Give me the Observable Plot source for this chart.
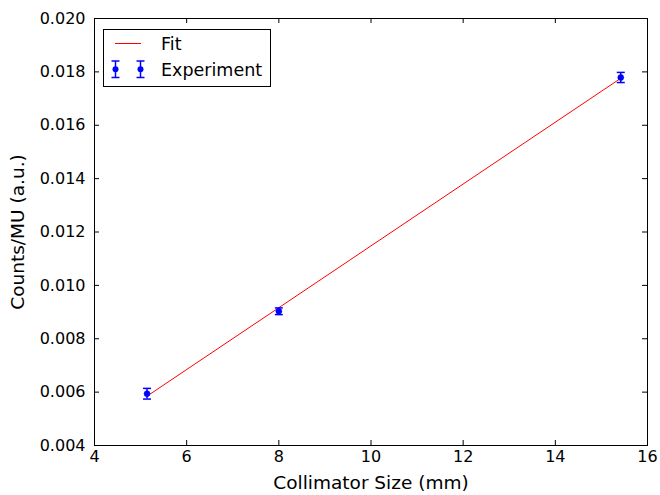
<!DOCTYPE html>
<html>
<head>
<meta charset="utf-8">
<script src="https://cdn.jsdelivr.net/npm/d3@7"></script>
<script src="https://cdn.jsdelivr.net/npm/@observablehq/plot@0.6"></script>
<style>
  html, body { margin: 0; padding: 0; background: white; }
  #chart { position: relative; width: 660px; height: 495px; }
</style>
</head>
<body>
<div id="chart"></div>
<script>
// Data
const expX = [5.14, 8.0, 15.42];
const expY = [0.00594, 0.00903, 0.01779];
const expErr = [0.0002, 0.000125, 0.00019];
const fitX = [5.14, 15.42];
const fitY = [0.00585, 0.01776];
const xTicks = [4, 6, 8, 10, 12, 14, 16];
const yTicks = [0.004, 0.006, 0.008, 0.010, 0.012, 0.014, 0.016, 0.018, 0.020];
const xLabel = "Collimator Size (mm)";
const yLabel = "Counts/MU (a.u.)";
const legendLabels = ["Fit", "Experiment"];

const points = expX.map((x, i) => ({x, y: expY[i], e: expErr[i]}));
const fit = fitX.map((x, i) => ({x, y: fitY[i]}));

const W = 660, H = 495, mL = 94, mR = 13, mT = 18, mB = 50;
const innerW = W - mL - mR, innerH = H - mT - mB;
const tickLen = 5;

const capSymbol = {
  draw(ctx) { ctx.moveTo(-4, 0); ctx.lineTo(4, 0); }
};

const font = "DejaVu Sans, Bitstream Vera Sans, sans-serif";

const chart = Plot.plot({
  width: W, height: H,
  marginLeft: mL, marginRight: mR, marginTop: mT, marginBottom: mB,
  style: {fontFamily: font, fontSize: "16px", background: "white", color: "black", overflow: "visible"},
  x: {domain: [4, 16]},
  y: {domain: [0.004, 0.020]},
  marks: [
    Plot.line(fit, {x: "x", y: "y", stroke: "#ff0000", strokeWidth: 1}),
    Plot.ruleX(points, {x: "x", y1: d => d.y - d.e, y2: d => d.y + d.e, stroke: "#0000ff", strokeWidth: 1.5}),
    Plot.dot(points, {x: "x", y: d => d.y + d.e, symbol: capSymbol, stroke: "#0000ff", strokeWidth: 1.5}),
    Plot.dot(points, {x: "x", y: d => d.y - d.e, symbol: capSymbol, stroke: "#0000ff", strokeWidth: 1.5}),
    Plot.dot(points, {x: "x", y: "y", r: 3, fill: "#0000ff", stroke: "#0000ff", strokeWidth: 0.5}),
    Plot.tickX(xTicks, {x: d => d, insetTop: innerH - tickLen, stroke: "black"}),
    Plot.tickX(xTicks, {x: d => d, insetBottom: innerH - tickLen, stroke: "black"}),
    Plot.tickY(yTicks, {y: d => d, insetLeft: innerW - tickLen, stroke: "black"}),
    Plot.tickY(yTicks, {y: d => d, insetRight: innerW - tickLen, stroke: "black"}),
    Plot.frame({stroke: "black", strokeWidth: 1}),
    Plot.axisX(xTicks, {tickSize: 0, tickPadding: 5, label: null, fontSize: 16}),
    Plot.axisY(yTicks, {tickSize: 0, tickPadding: 9, tickFormat: d3.format(".3f"), label: null, fontSize: 16}),
    Plot.text([xLabel], {text: d => d, frameAnchor: "bottom", dy: 43, lineAnchor: "bottom", textAnchor: "middle", fontSize: 18.5, fill: "black"}),
    Plot.text([yLabel], {text: d => d, frameAnchor: "left", dx: -84, rotate: -90, lineAnchor: "top", textAnchor: "middle", fontSize: 18.5, fill: "black"})
  ]
});

document.getElementById("chart").appendChild(chart);

// Legend (inside the plot, upper left)
const svg = d3.select(chart);
const lg = svg.append("g").attr("font-family", font).attr("font-size", 17.5).attr("text-anchor", "start");
lg.append("rect").attr("x", 103.5).attr("y", 29.5).attr("width", 167).attr("height", 57)
  .attr("fill", "white").attr("stroke", "black").attr("stroke-width", 1);
lg.append("line").attr("x1", 115).attr("x2", 141).attr("y1", 43.5).attr("y2", 43.5)
  .attr("stroke", "#ff0000").attr("stroke-width", 1);
[115.5, 140.5].forEach(cx => {
  lg.append("line").attr("x1", cx).attr("x2", cx).attr("y1", 61).attr("y2", 77.5).attr("stroke", "#0000ff").attr("stroke-width", 1.5);
  lg.append("line").attr("x1", cx - 4).attr("x2", cx + 4).attr("y1", 61).attr("y2", 61).attr("stroke", "#0000ff").attr("stroke-width", 1.5);
  lg.append("line").attr("x1", cx - 4).attr("x2", cx + 4).attr("y1", 77.5).attr("y2", 77.5).attr("stroke", "#0000ff").attr("stroke-width", 1.5);
  lg.append("circle").attr("cx", cx).attr("cy", 69.3).attr("r", 3).attr("fill", "#0000ff");
});
lg.append("text").attr("x", 161).attr("y", 49.5).attr("fill", "black").attr("text-anchor", "start").text(legendLabels[0]);
lg.append("text").attr("x", 161).attr("y", 75.5).attr("fill", "black").attr("text-anchor", "start").text(legendLabels[1]);
</script>
</body>
</html>
